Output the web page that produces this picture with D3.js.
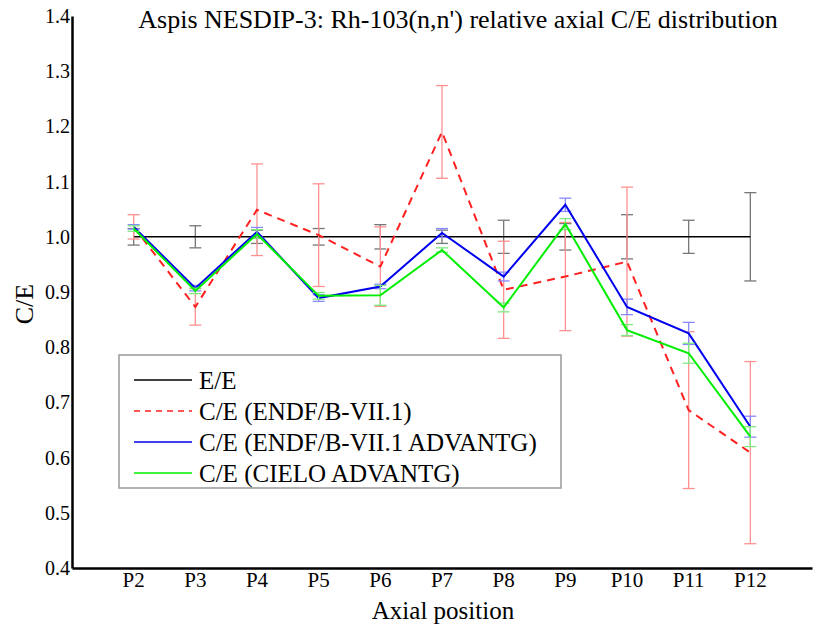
<!DOCTYPE html>
<html>
<head>
<meta charset="utf-8">
<title>Rh-103 relative axial C/E distribution</title>
<script src="https://cdn.jsdelivr.net/npm/d3@7"></script>
<style>
  body { margin: 0; background: #fff; }
  svg text { font-family: "Liberation Serif", "DejaVu Serif", serif; fill: #000; }
  .axis path { stroke: #000; stroke-width: 2.5; }
  .axis line { display: none; }
  .axis text { font-size: 20px; }
</style>
</head>
<body>
<svg id="chart"></svg>
<script>
// values
var positions = ['P2', 'P3', 'P4', 'P5', 'P6', 'P7', 'P8', 'P9', 'P10', 'P11', 'P12'];
var yTicks = [0.4, 0.5, 0.6, 0.7, 0.8, 0.9, 1.0, 1.1, 1.2, 1.3, 1.4];

var ee       = [1, 1, 1, 1, 1, 1, 1, 1, 1, 1, 1];
var eeErr    = [0.015, 0.02, 0.012, 0.015, 0.022, 0.012, 0.03, 0.024, 0.04, 0.03, 0.08];
var ceEndf    = [1.018, 0.873, 1.049, 1.003, 0.946, 1.19, 0.904, 0.928, 0.955, 0.686, 0.609];
var ceEndfErr = [0.022, 0.033, 0.083, 0.093, 0.072, 0.084, 0.088, 0.098, 0.135, 0.142, 0.165];
var ceAdv    = [1.018, 0.907, 1.009, 0.889, 0.910, 1.007, 0.928, 1.058, 0.873, 0.825, 0.656];
var ceAdvErr = [0.004, 0.005, 0.008, 0.006, 0.004, 0.008, 0.008, 0.012, 0.014, 0.02, 0.019];
var ceCielo    = [1.015, 0.902, 1.005, 0.893, 0.894, 0.976, 0.872, 1.023, 0.831, 0.789, 0.638];
var ceCieloErr = [0.005, 0.005, 0.008, 0.006, 0.018, 0.004, 0.008, 0.01, 0.01, 0.018, 0.018];

var series = [
  { name: 'E/E', values: ee, err: eeErr, color: '#000', errColor: '#777', width: 1.5, dash: null },
  { name: 'C/E (ENDF/B-VII.1)', values: ceEndf, err: ceEndfErr, color: '#ff2020', errColor: '#ff9090', width: 2, dash: '8,6' },
  { name: 'C/E (ENDF/B-VII.1 ADVANTG)', values: ceAdv, err: ceAdvErr, color: '#0000ee', errColor: '#8888ff', width: 2, dash: null },
  { name: 'C/E (CIELO ADVANTG)', values: ceCielo, err: ceCieloErr, color: '#00ee00', errColor: '#80e880', width: 2, dash: null }
];

var W = 816, H = 628;
var margin = { top: 16, left: 72, bottom: 60, right: 4 };

var svg = d3.select('#chart')
  .attr('width', W)
  .attr('height', H);

// index 1 .. 13 spans the whole x axis, P2 sits at index 2
var x = d3.scaleLinear()
  .domain([1, 13])
  .range([margin.left, W - margin.right]);

var y = d3.scaleLinear()
  .domain([0.4, 1.4])
  .range([H - margin.bottom, margin.top]);

var xi = i => x(i + 2);

svg.append('g')
  .attr('class', 'axis')
  .attr('transform', 'translate(0,' + y(0.4) + ')')
  .call(d3.axisBottom(x).tickValues([]).tickSize(0).tickSizeOuter(0));

svg.append('g')
  .attr('class', 'axis')
  .attr('transform', 'translate(' + margin.left + ',0)')
  .call(d3.axisLeft(y).tickValues(yTicks).tickFormat(d3.format('.1f')).tickSize(0).tickSizeOuter(0).tickPadding(2));

// category labels
svg.append('g')
  .selectAll('text')
  .data(positions)
  .enter()
  .append('text')
  .attr('x', (d, i) => xi(i))
  .attr('y', 587)
  .attr('text-anchor', 'middle')
  .style('font-size', '21px')
  .text(d => d);

var line = d3.line()
  .x((d, i) => xi(i))
  .y(d => y(d));

var capW = 6;

series.forEach(s => {
  var g = svg.append('g');

  var eb = g.selectAll('.eb')
    .data(s.values.map((v, i) => ({ i: i, v: v, e: s.err[i] })))
    .enter()
    .append('g')
    .attr('stroke', s.errColor)
    .attr('stroke-width', 1.3);

  eb.append('line')
    .attr('x1', d => xi(d.i)).attr('x2', d => xi(d.i))
    .attr('y1', d => y(d.v - d.e)).attr('y2', d => y(d.v + d.e));
  eb.append('line')
    .attr('x1', d => xi(d.i) - capW).attr('x2', d => xi(d.i) + capW)
    .attr('y1', d => y(d.v + d.e)).attr('y2', d => y(d.v + d.e));
  eb.append('line')
    .attr('x1', d => xi(d.i) - capW).attr('x2', d => xi(d.i) + capW)
    .attr('y1', d => y(d.v - d.e)).attr('y2', d => y(d.v - d.e));

  g.append('path')
    .datum(s.values)
    .attr('fill', 'none')
    .attr('stroke', s.color)
    .attr('stroke-width', s.width)
    .attr('stroke-dasharray', s.dash)
    .attr('d', line);
});

// titles
svg.append('text')
  .attr('x', 458)
  .attr('y', 28)
  .attr('text-anchor', 'middle')
  .style('font-size', '26px')
  .text("Aspis NESDIP-3: Rh-103(n,n') relative axial C/E distribution");

svg.append('text')
  .attr('x', 443)
  .attr('y', 619)
  .attr('text-anchor', 'middle')
  .style('font-size', '25px')
  .text('Axial position');

svg.append('text')
  .attr('transform', 'translate(33,304) rotate(-90)')
  .attr('text-anchor', 'middle')
  .style('font-size', '26px')
  .text('C/E');

// legend
var lg = svg.append('g');
lg.append('rect')
  .attr('x', 119).attr('y', 355)
  .attr('width', 442).attr('height', 133)
  .attr('fill', '#fff')
  .attr('stroke', '#999')
  .attr('stroke-width', 1.5);

var item = lg.selectAll('.item')
  .data(series)
  .enter()
  .append('g')
  .attr('transform', (d, i) => 'translate(134,' + (380 + i * 31) + ')');

item.append('line')
  .attr('x1', 0).attr('x2', 58)
  .attr('stroke', d => d.color)
  .attr('stroke-width', 1.5)
  .attr('stroke-dasharray', d => d.dash ? '6,5' : null);

item.append('text')
  .attr('x', 65)
  .attr('dy', '0.35em')
  .style('font-size', '25px')
  .text(d => d.name);
</script>
</body>
</html>
